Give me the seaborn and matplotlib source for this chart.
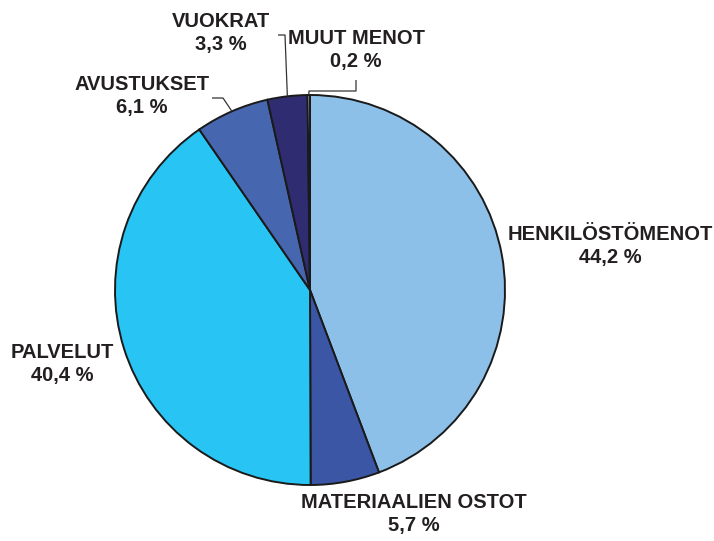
import numpy as np
import matplotlib
matplotlib.use("Agg")
import matplotlib.pyplot as plt
import seaborn as sns

sns.set_style("white")
plt.rcParams["font.family"] = ["Liberation Sans", "DejaVu Sans"]

# data
categories = ["HENKILÖSTÖMENOT", "MATERIAALIEN OSTOT", "PALVELUT",
              "AVUSTUKSET", "VUOKRAT", "MUUT MENOT"]
shares = [44.2, 5.7, 40.4, 6.1, 3.3, 0.2]
share_labels = ["44,2 %", "5,7 %", "40,4 %", "6,1 %", "3,3 %", "0,2 %"]
colors = ["#8DC0E8", "#3B56A5", "#27C4F4", "#4766B0", "#302C72", "#E4E4E4"]

W, H = 714, 541
CX, CY, R = 310, 290, 195

fig = plt.figure(figsize=(W / 100, H / 100), dpi=100)
ax = fig.add_axes([(CX - R) / W, (H - CY - R) / H, 2 * R / W, 2 * R / H])

wedges, _ = ax.pie(shares, colors=colors, startangle=90, counterclock=False,
                   wedgeprops=dict(edgecolor="#1a1a1a", linewidth=1.4))
ax.set_xlim(-1, 1)
ax.set_ylim(-1, 1)
ax.set_aspect("equal")
ax.axis("off")


# pixel -> data (radius 1 = R px)
def px(x, y):
    return (x - CX) / R, (CY - y) / R


def edge(w):
    a = np.deg2rad((w.theta1 + w.theta2) / 2)
    return np.cos(a), np.sin(a)


txt = "#231F20"
label_pos = [(610, 246), (414, 514), (62, 364), (142, 96), (221, 33), (356, 50)]
for cat, lab, (lx, ly) in zip(categories, share_labels, label_pos):
    x, y = px(lx, ly)
    ax.text(x, y, cat + "\n" + lab, ha="center", va="center", fontsize=14.5,
            fontweight="bold", color=txt, linespacing=1.3)

# leader lines
lc = dict(color="#333333", lw=0.9, solid_capstyle="butt", clip_on=False)
ex, ey = edge(wedges[3])
p1, p2 = px(223, 98), px(212, 98)
ax.plot([ex, p1[0], p2[0]], [ey, p1[1], p2[1]], **lc)

ex, ey = edge(wedges[4])
p1, p2 = px(285, 35), px(278, 35)
ax.plot([ex, p1[0], p2[0]], [ey, p1[1], p2[1]], **lc)

ex, ey = edge(wedges[5])
p1, p2, p3 = px(309, 91), px(356, 91), px(356, 80)
ax.plot([ex, p1[0], p2[0], p3[0]], [ey, p1[1], p2[1], p3[1]], **lc)

fig.savefig("out.png", dpi=100)
